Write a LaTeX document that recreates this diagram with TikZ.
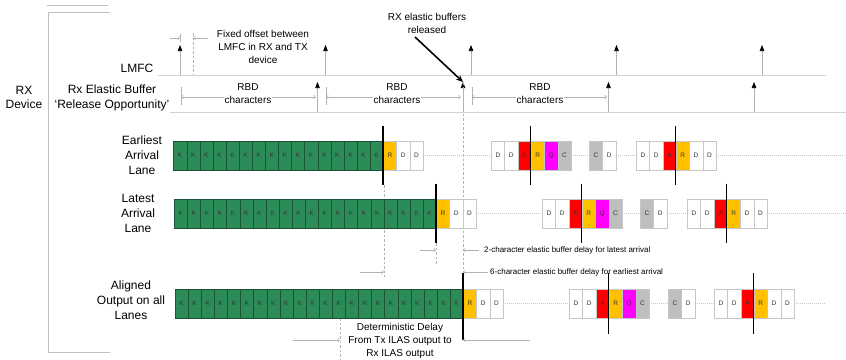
\documentclass[tikz,border=0pt]{standalone}
\usepackage{fontspec}
\setmainfont{Liberation Sans}
\usetikzlibrary{arrows.meta, positioning}

\definecolor{kgreen}{RGB}{44,140,88}
\definecolor{rgold}{RGB}{255,192,0}
\definecolor{ared}{RGB}{255,0,0}
\definecolor{qmag}{RGB}{255,0,255}
\definecolor{cgray}{RGB}{190,190,190}

\begin{document}
\begin{tikzpicture}[x=1pt, y=-1pt,
  lbl/.style={align=center, font=\fontsize{12}{15}\selectfont},
  note/.style={align=center, font=\fontsize{10}{13}\selectfont},
  tiny/.style={anchor=west, inner sep=1pt, font=\fontsize{8}{9}\selectfont},
  cell/.style={draw=gray!45, fill=white, minimum width=13.3pt, minimum height=29pt,
               inner sep=0pt, anchor=west, font=\fontsize{6.5}{7}\selectfont, text=black!80},
  kcell/.style={cell, fill=kgreen, draw=kgreen!60!black, minimum width=13.1pt},
  frame/.style={draw=gray!50, line width=0.6pt},
  axis/.style={draw=gray!35, line width=0.9pt},
  pulse/.style={draw=gray!60, line width=0.6pt, -{Triangle[length=6pt, width=4.5pt, black]}},
  dim/.style={draw=gray!60, line width=0.5pt, >={Straight Barb[length=2pt, width=3.5pt]}},
  guide/.style={draw=gray!60, line width=0.5pt, dash pattern=on 2.5pt off 2pt},
  dotline/.style={draw=gray!45, line width=0.6pt, dash pattern=on 1pt off 1pt},
  marker/.style={draw=black, line width=1.1pt}
]
\useasboundingbox (0,0) rectangle (846,359);

% RX device bracket
\draw[frame] (47,5.5) -- (108,5.5);
\draw[frame] (110,12) -- (48,12) -- (48,352) -- (110,352);

\node[lbl, font=\fontsize{12}{14}\selectfont] (rx) at (24,97) {RX\\Device};
\node[lbl] (lmfc) at (137,68) {LMFC};
\node[lbl] (rxeb) at (112,97.5) {Rx Elastic Buffer\\‘Release Opportunity’};
\node[lbl] (early) at (142,155) {Earliest\\Arrival\\Lane};
\node[lbl] (late) at (138,213) {Latest\\Arrival\\Lane};
\node[lbl] (aligned) at (131,300) {Aligned\\Output on all\\Lanes};

% time axes and pulses
\draw[axis] (158,75) -- (826,75);
\draw[axis] (170,112) -- (846,112);
\foreach \x [count=\n] in {180,325.5,471,616.5,762} {
  \coordinate (lm\n) at (\x,75);
  \coordinate (lmt\n) at (\x,45);
  \draw[pulse] (lm\n) -- (lmt\n);
}
\foreach \x [count=\n] in {317.5,463,608.5,754} {
  \coordinate (rb\n) at (\x,112);
  \coordinate (rbt\n) at (\x,82);
  \draw[pulse] (rb\n) -- (rbt\n);
}

% RBD spans
\foreach \a/\b/\m [count=\n] in {181/316/248, 326/461/397, 472/607/540} {
  \coordinate (rbdL\n) at (\a,97);
  \coordinate (rbdR\n) at (\b,97);
  \draw[dim, <->] (rbdL\n) -- (rbdR\n);
  \draw[dim] ([yshift=10pt]rbdL\n) -- ([yshift=-8pt]rbdL\n);
  \node[note, fill=white, inner sep=1pt] (rbd\n) at (\m,93.5) {RBD\\characters};
}

% fixed offset between LMFC in RX and TX
\coordinate (fxa) at (170,38);
\coordinate (fxb) at (180,38);
\coordinate (fxc) at (208,38);
\coordinate (fxd) at (193,38);
\coordinate (fxe) at (193,75);
\draw[dim, ->] (fxa) -- (fxb);
\draw[dim] ([yshift=4pt]fxb) -- ([yshift=-4pt]fxb);
\draw[dim, ->] (fxc) -- (fxd);
\draw[guide] ([yshift=5pt]fxd) -- (fxe);
\node[note] (fixed) at (263,47) {Fixed offset between\\LMFC in RX and TX\\device};

% release of the elastic buffers
\node[note] (rel) at (427,23.5) {RX elastic buffers\\released};
\coordinate (rels) at (415,37);
\draw[line width=1.6pt, -{Stealth[length=7pt, width=6pt]}] (rels) -- (rbt2);

% guide lines (behind the lanes)
\coordinate (g1) at (463,273);
\coordinate (g2a) at (384,185);
\coordinate (g2b) at (384,277);
\coordinate (g3a) at (436,243);
\coordinate (g3b) at (436,265);
\coordinate (g4a) at (340,318);
\coordinate (g4b) at (340,359);
\draw[guide] (rbt2) -- (g1);
\draw[guide] (g2a) -- (g2b);
\draw[guide] (g3a) -- (g3b);
\draw[guide] (g4a) -- (g4b);

% earliest arrival lane
\foreach \i in {0,...,15}
  \node[kcell] (ek\i) at ({173.4+13.1*\i},155.5) {K};
\foreach \t/\f [count=\n from 0] in {R/rgold, D/white, D/white}
  \node[cell, fill=\f] (er\n) at ({383+13.3*\n},155.5) {\t};
\foreach \t/\f [count=\n from 0] in {D/white, D/white, A/ared, R/rgold, Q/qmag, C/cgray}
  \node[cell, fill=\f] (ea\n) at ({491+13.3*\n},155.5) {\t};
\foreach \t/\f [count=\n from 0] in {C/cgray, D/white}
  \node[cell, fill=\f] (eb\n) at ({589+13.3*\n},155.5) {\t};
\foreach \t/\f [count=\n from 0] in {D/white, D/white, A/ared, R/rgold, D/white, D/white}
  \node[cell, fill=\f] (ec\n) at ({636+13.3*\n},155.5) {\t};
\coordinate (eend) at (846,155.5);
\draw[dotline] (er2.east) -- (ea0.west);
\draw[dotline] (ea5.east) -- (eb0.west);
\draw[dotline] (eb1.east) -- (ec0.west);
\draw[dotline] (ec5.east) -- (eend);
\foreach \c in {er0, ea3, ec3}
  \draw[marker] ([yshift=15pt]\c.north west) -- ([yshift=-15pt]\c.south west);

% latest arrival lane
\foreach \i in {0,...,19}
  \node[kcell] (lk\i) at ({174+13.1*\i},213.5) {K};
\foreach \t/\f [count=\n from 0] in {R/rgold, D/white, D/white}
  \node[cell, fill=\f] (lr\n) at ({436+13.3*\n},213.5) {\t};
\foreach \t/\f [count=\n from 0] in {D/white, D/white, A/ared, R/rgold, Q/qmag, C/cgray}
  \node[cell, fill=\f] (la\n) at ({542+13.3*\n},213.5) {\t};
\foreach \t/\f [count=\n from 0] in {C/cgray, D/white}
  \node[cell, fill=\f] (lb\n) at ({640+13.3*\n},213.5) {\t};
\foreach \t/\f [count=\n from 0] in {D/white, D/white, A/ared, R/rgold, D/white, D/white}
  \node[cell, fill=\f] (lc\n) at ({687+13.3*\n},213.5) {\t};
\coordinate (lend) at (846,213.5);
\draw[dotline] (lr2.east) -- (la0.west);
\draw[dotline] (la5.east) -- (lb0.west);
\draw[dotline] (lb1.east) -- (lc0.west);
\draw[dotline] (lc5.east) -- (lend);
\foreach \c in {lr0, la3, lc3}
  \draw[marker] ([yshift=15pt]\c.north west) -- ([yshift=-15pt]\c.south west);

% aligned output on all lanes
\foreach \i in {0,...,21}
  \node[kcell] (ok\i) at ({174.8+13.1*\i},303.5) {K};
\foreach \t/\f [count=\n from 0] in {R/rgold, D/white, D/white}
  \node[cell, fill=\f] (or\n) at ({463+13.3*\n},303.5) {\t};
\foreach \t/\f [count=\n from 0] in {D/white, D/white, A/ared, R/rgold, Q/qmag, C/cgray}
  \node[cell, fill=\f] (oa\n) at ({569+13.3*\n},303.5) {\t};
\foreach \t/\f [count=\n from 0] in {C/cgray, D/white}
  \node[cell, fill=\f] (ob\n) at ({668+13.3*\n},303.5) {\t};
\foreach \t/\f [count=\n from 0] in {D/white, D/white, A/ared, R/rgold, D/white, D/white}
  \node[cell, fill=\f] (oc\n) at ({714+13.3*\n},303.5) {\t};
\coordinate (oend) at (825,303.5);
\draw[dotline] (or2.east) -- (oa0.west);
\draw[dotline] (oa5.east) -- (ob0.west);
\draw[dotline] (ob1.east) -- (oc0.west);
\draw[dotline] (oc5.east) -- (oend);
\draw[marker] ([yshift=16pt]or0.north west) -- ([yshift=-22pt]or0.south west);
\foreach \c in {oa3, oc3}
  \draw[marker] ([yshift=16pt]\c.north west) -- ([yshift=-16pt]\c.south west);

% elastic buffer delays
\coordinate (d2a) at (420,250);
\coordinate (d2b) at (436,250);
\coordinate (d2c) at (463,250);
\coordinate (d6a) at (360,272);
\coordinate (d6b) at (384,272);
\coordinate (d6c) at (463,272);
\node[tiny] (two) at (483,250) {2-character elastic buffer delay for latest arrival};
\node[tiny] (six) at (489,272) {6-character elastic buffer delay for earliest arrival};
\draw[dim, ->] (d2a) -- (d2b);
\draw[dim, ->, shorten <=4pt] (two.west) -- (d2c);
\draw[dim, ->] (d6a) -- (d6b);
\draw[dim, ->, shorten <=1pt] (six.west) -- (d6c);

% deterministic delay
\coordinate (dda) at (293,340);
\coordinate (ddb) at (340,340);
\coordinate (ddc) at (530,340);
\coordinate (ddd) at (463,340);
\draw[dim, ->] (dda) -- (ddb);
\draw[dim, ->] (ddc) -- (ddd);
\node[note] (dd) at (400,340.5)
  {Deterministic Delay\\From Tx ILAS output to\\Rx ILAS output};
\end{tikzpicture}
\end{document}
